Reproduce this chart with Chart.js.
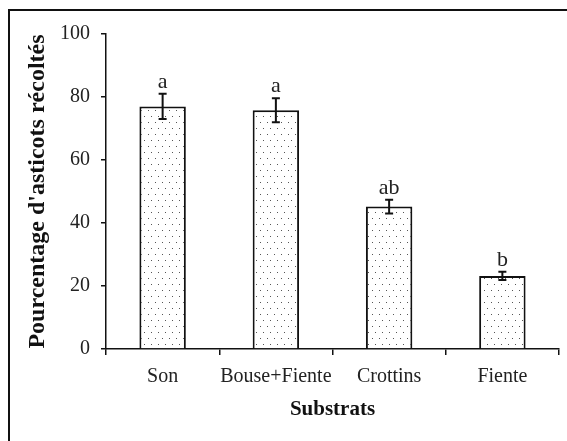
<!DOCTYPE html>
<html lang="fr">
<head>
  <meta charset="UTF-8" />
  <title>Asticots récoltés par substrat</title>
  <script src="https://cdn.jsdelivr.net/npm/chart.js"></script>
  <style>
    html, body { margin: 0; padding: 0; background: #fff; overflow: hidden; }
    #wrap { position: relative; width: 567px; height: 441px; }
    #frame { position: absolute; left: 8px; top: 9px; width: 600px; height: 480px; border: 2px solid #111; }
    canvas { position: absolute; left: 0; top: 0; }
  </style>
</head>
<body>
  <div id="wrap">
    <div id="frame"></div>
    <canvas id="chart" width="567" height="441"></canvas>
  </div>

  <script>
    const substrats = ["Son", "Bouse+Fiente", "Crottins", "Fiente"];
    const pourcentages = [77, 75.8, 45.2, 23.2];
    const erreurs = [4, 3.8, 2.2, 1.3];
    const lettres = ["a", "a", "ab", "b"];
    const yTicks = [0, 20, 40, 60, 80, 100];

    // motif pointillé des barres
    function dotPattern() {
      const c = document.createElement("canvas");
      c.width = 7; c.height = 12;
      const g = c.getContext("2d");
      g.fillStyle = "#fff";
      g.fillRect(0, 0, 7, 12);
      g.fillStyle = "#555";
      g.fillRect(1, 2, 1, 1);
      g.fillRect(4, 8, 1, 1);
      return g.createPattern(c, "repeat");
    }

    const serif = "'Liberation Serif', 'Times New Roman', serif";
    const ctx = document.getElementById("chart").getContext("2d");

    const errorBars = {
      id: "errorBars",
      afterDatasetsDraw(chart) {
        const c = chart.ctx;
        const meta = chart.getDatasetMeta(0);
        const y = chart.scales.y;
        c.save();
        c.strokeStyle = "#111";
        c.lineWidth = 2;
        meta.data.forEach((bar, i) => {
          const top = y.getPixelForValue(pourcentages[i] + erreurs[i]);
          const bot = y.getPixelForValue(pourcentages[i] - erreurs[i]);
          const x = bar.x;
          c.beginPath();
          c.moveTo(x, top); c.lineTo(x, bot);
          c.moveTo(x - 4, top); c.lineTo(x + 4, top);
          c.moveTo(x - 4, bot); c.lineTo(x + 4, bot);
          c.stroke();
          c.fillStyle = "#222";
          c.font = "22px " + serif;
          c.textAlign = "center";
          c.textBaseline = "alphabetic";
          c.fillText(lettres[i], x, top - 6);
        });
        c.restore();
      }
    };

    new Chart(ctx, {
      type: "bar",
      data: {
        labels: substrats,
        datasets: [{
          data: pourcentages,
          backgroundColor: dotPattern(),
          borderColor: "#111",
          borderWidth: 2,
          barPercentage: 0.41,
          categoryPercentage: 1
        }]
      },
      options: {
        responsive: false,
        animation: false,
        devicePixelRatio: 1,
        layout: { padding: { top: 34, right: 8, left: 0, bottom: 0 } },
        plugins: { legend: { display: false }, tooltip: { enabled: false } },
        scales: {
          x: {
            grid: { offset: true, drawOnChartArea: false, drawTicks: true, tickLength: 6, color: "#111", lineWidth: 1.5 },
            border: { color: "#111", width: 1.5 },
            ticks: { color: "#222", font: { family: serif, size: 20 }, padding: 10, maxRotation: 0, autoSkip: false },
            title: { display: true, text: "Substrats", color: "#111", font: { family: serif, size: 21, weight: "bold" }, padding: { top: 0, bottom: 19 } },
            afterFit(scale) { scale.height = 92; }
          },
          y: {
            min: 0, max: 100,
            afterBuildTicks(scale) { scale.ticks = yTicks.map(v => ({ value: v })); },
            grid: { drawOnChartArea: false, drawTicks: true, tickLength: 5, color: "#111", lineWidth: 1.5 },
            border: { color: "#111", width: 1.5 },
            ticks: { color: "#222", font: { family: serif, size: 20 }, padding: 11 },
            title: { display: true, text: "Pourcentage d'asticots récoltés", color: "#111", font: { family: serif, size: 24, weight: "bold" }, padding: { top: 23, bottom: 0 } },
            afterFit(scale) { scale.width = 106; }
          }
        }
      },
      plugins: [errorBars]
    });
  </script>
</body>
</html>
